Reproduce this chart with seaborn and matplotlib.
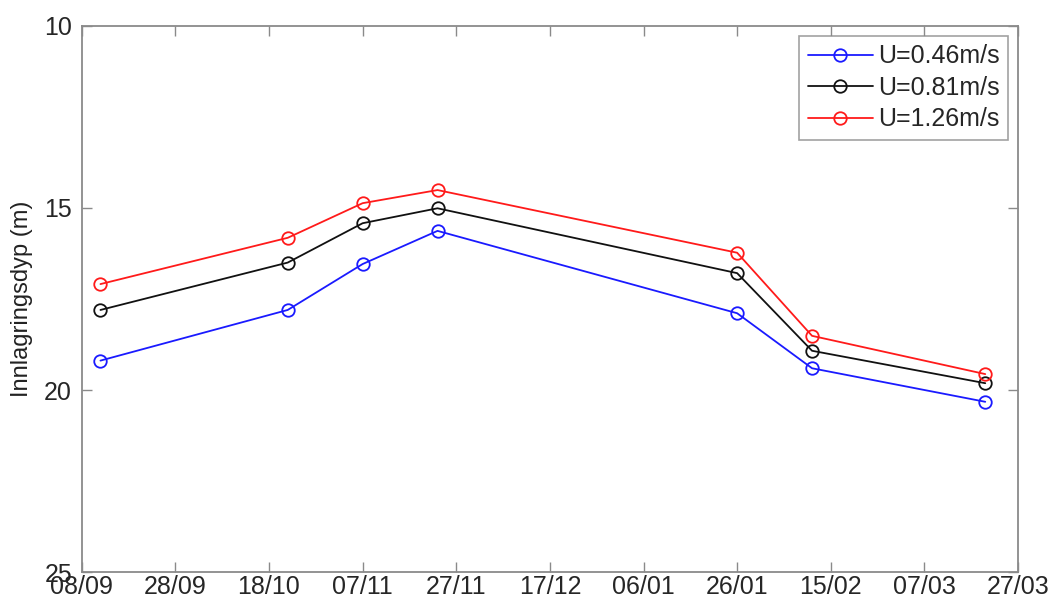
import matplotlib
matplotlib.use("Agg")
import matplotlib.pyplot as plt
import matplotlib.dates as mdates
import seaborn as sns
import pandas as pd

# ---- data ----
dates = ["2008-09-12", "2008-10-22", "2008-11-07", "2008-11-23",
         "2009-01-26", "2009-02-11", "2009-03-20"]
u046 = [19.19, 17.80, 16.54, 15.63, 17.89, 19.40, 20.32]
u081 = [17.80, 16.50, 15.42, 15.01, 16.79, 18.92, 19.81]
u126 = [17.09, 15.82, 14.87, 14.51, 16.23, 18.51, 19.56]
series_labels = ["U=0.46m/s", "U=0.81m/s", "U=1.26m/s"]
series_colors = ["#1a1aff", "#111111", "#ff1a1a"]
xtick_dates = ["2008-09-08", "2008-09-28", "2008-10-18", "2008-11-07",
               "2008-11-27", "2008-12-17", "2009-01-06", "2009-01-26",
               "2009-02-15", "2009-03-07", "2009-03-27"]
yticks = [10, 15, 20, 25]
ylabel = "Innlagringsdyp (m)"

sns.set_theme(style="white")
plt.rcParams["font.family"] = ["Liberation Sans", "DejaVu Sans"]

fig = plt.figure(figsize=(10.52, 6.05), dpi=100)
ax = fig.add_axes([0.0777, 0.054, 0.8900, 0.9035])

x = pd.to_datetime(dates)
for vals, lab, col in zip([u046, u081, u126], series_labels, series_colors):
    df = pd.DataFrame({"date": x, "depth": vals})
    sns.lineplot(data=df, x="date", y="depth", ax=ax, color=col, label=lab,
                 marker="o", markersize=9, markerfacecolor="none",
                 markeredgecolor=col, markeredgewidth=1.3, linewidth=1.3)

xt = pd.to_datetime(xtick_dates)
ax.set_xlim(xt[0], xt[-1])
ax.set_xticks(xt)
ax.xaxis.set_major_formatter(mdates.DateFormatter("%d/%m"))
ax.set_ylim(25, 10)
ax.set_yticks(yticks)
ax.set_xlabel("")
ax.set_ylabel(ylabel, fontsize=17, color="#222222", labelpad=8)

for s in ax.spines.values():
    s.set_visible(True)
    s.set_color("#8a8a8a")
    s.set_linewidth(1.3)

ax.tick_params(axis="both", direction="in", length=7, width=1.0,
               color="#8a8a8a", labelsize=18, labelcolor="#262626",
               top=True, right=True, bottom=True, left=True)
ax.tick_params(axis="x", pad=2)
ax.tick_params(axis="y", pad=7)

leg = ax.legend(loc="upper right", fontsize=18, frameon=True, fancybox=False,
                edgecolor="#8a8a8a", handlelength=2.6, handletextpad=0.2,
                labelspacing=0.3, borderpad=0.35, borderaxespad=0.4)
leg.get_frame().set_linewidth(1.2)
for t in leg.get_texts():
    t.set_color("#262626")

fig.savefig("out.png", dpi=100)
